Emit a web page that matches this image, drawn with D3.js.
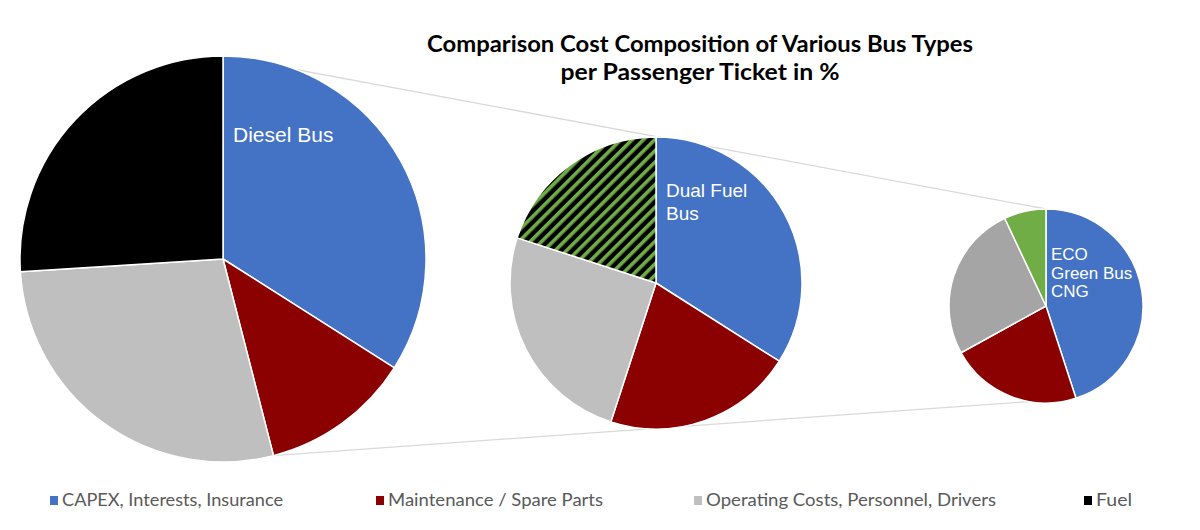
<!DOCTYPE html>
<html>
<head>
<meta charset="utf-8">
<script src="https://cdn.jsdelivr.net/npm/d3@7"></script>
<style>
  body { margin: 0; background: #fff; }
  svg { display: block; }
</style>
</head>
<body>
<div id="chart"></div>
<script>
// cost categories (legend order = slice order, clockwise from 12 o'clock)
const categories = ["CAPEX, Interests, Insurance", "Maintenance / Spare Parts", "Operating Costs, Personnel, Drivers", "Fuel"]

// share of ticket cost in %
const dieselBus = [34, 12, 28, 26]
const dualFuelBus = [34, 21, 25, 20]
const ecoGreenBus = [45, 22, 26, 7]

// labels written inside each pie
const busLabels = [["Diesel Bus"], ["Dual Fuel", "Bus"], ["ECO", "Green Bus", "CNG"]]

const titleLines = ["Comparison Cost Composition of Various Bus Types", "per Passenger Ticket in %"]

const width = 1200, height = 530

const svg = d3.select("#chart").append("svg")
  .attr("width", width)
  .attr("height", height)

svg.append("rect").attr("width", width).attr("height", height).attr("fill", "#fff")

// hatch for the dual fuel "fuel" slice
const defs = svg.append("defs")
const hatch = defs.append("pattern")
  .attr("id", "hatch")
  .attr("patternUnits", "userSpaceOnUse")
  .attr("width", 8)
  .attr("height", 8)
  .attr("patternTransform", "rotate(45)")
hatch.append("rect").attr("width", 8).attr("height", 8).attr("fill", "#000")
hatch.append("rect").attr("width", 3.6).attr("height", 8).attr("fill", "#70AD47")

const blue = "#4472C4", red = "#8B0000", grey = "#BFBFBF"

const pies = [
  {values: dieselBus, cx: 223, cy: 259, r: 203, colors: [blue, red, grey, "#000"], lx: 233, ly: 142, fs: 21, lh: 22},
  {values: dualFuelBus, cx: 656, cy: 283, r: 146, colors: [blue, red, grey, "url(#hatch)"], lx: 666, ly: 197, fs: 19, lh: 23},
  {values: ecoGreenBus, cx: 1046, cy: 306, r: 97, colors: [blue, red, "#A5A5A5", "#70AD47"], lx: 1051, ly: 260, fs: 17, lh: 18.5}
]

const pie = d3.pie().sort(null).value(d => d)

pies.forEach(p => { p.arcs = pie(p.values) })

function onCircle(p, a) {
  return [p.cx + p.r * Math.sin(a), p.cy - p.r * Math.cos(a)]
}

// connector lines behind the pies
const first = pies[0], last = pies[pies.length - 1]
const connectors = [
  [onCircle(first, first.arcs[0].startAngle), onCircle(last, last.arcs[0].startAngle)],
  [onCircle(first, first.arcs[1].endAngle), onCircle(last, last.arcs[0].endAngle)]
]
svg.selectAll(".connector")
  .data(connectors)
  .enter()
  .append("line")
  .attr("class", "connector")
  .attr("x1", d => d[0][0]).attr("y1", d => d[0][1])
  .attr("x2", d => d[1][0]).attr("y2", d => d[1][1])
  .style("stroke", "#D9D9D9")
  .style("stroke-width", 1.3)

pies.forEach((p, i) => {
  const arc = d3.arc().innerRadius(0).outerRadius(p.r)
  const g = svg.append("g").attr("transform", `translate(${p.cx},${p.cy})`)
  g.selectAll("path")
    .data(p.arcs)
    .enter()
    .append("path")
    .attr("d", arc)
    .style("fill", (d, j) => p.colors[j])
    .style("stroke", "#fff")
    .style("stroke-width", 1.5)
    .style("stroke-linejoin", "round")

  svg.append("text")
    .attr("x", p.lx)
    .attr("y", p.ly)
    .style("font-family", "'Liberation Sans', Arial, sans-serif")
    .style("font-size", p.fs + "px")
    .style("fill", "#fff")
    .selectAll("tspan")
    .data(busLabels[i])
    .enter()
    .append("tspan")
    .attr("x", p.lx)
    .attr("dy", (d, j) => j === 0 ? 0 : p.lh)
    .text(d => d)
})

// title
const titleWidths = [546, 279]
svg.selectAll(".title")
  .data(titleLines)
  .enter()
  .append("text")
  .attr("class", "title")
  .attr("x", 700)
  .attr("y", (d, i) => 52 + i * 28)
  .attr("text-anchor", "middle")
  .attr("textLength", (d, i) => titleWidths[i])
  .attr("lengthAdjust", "spacingAndGlyphs")
  .style("font-family", "Lato, 'Open Sans', sans-serif")
  .style("font-weight", 700)
  .style("font-size", "23px")
  .style("fill", "#000")
  .text(d => d)

// legend
const legendX = [50, 376, 694, 1084]
const legendTextW = [221, 215, 290, 36]
const legendColors = [blue, red, grey, "#000"]
const legend = svg.selectAll(".legend")
  .data(categories)
  .enter()
  .append("g")
  .attr("class", "legend")
  .attr("transform", (d, i) => `translate(${legendX[i]},500)`)
legend.append("rect")
  .attr("x", 0).attr("y", -4)
  .attr("width", 8).attr("height", 9)
  .style("fill", (d, i) => legendColors[i])
legend.append("text")
  .attr("x", 12)
  .attr("y", 6)
  .attr("textLength", (d, i) => legendTextW[i])
  .attr("lengthAdjust", "spacingAndGlyphs")
  .style("font-family", "Lato, 'Open Sans', sans-serif")
  .style("font-size", "18px")
  .style("fill", "#595959")
  .text(d => d)
</script>
</body>
</html>
